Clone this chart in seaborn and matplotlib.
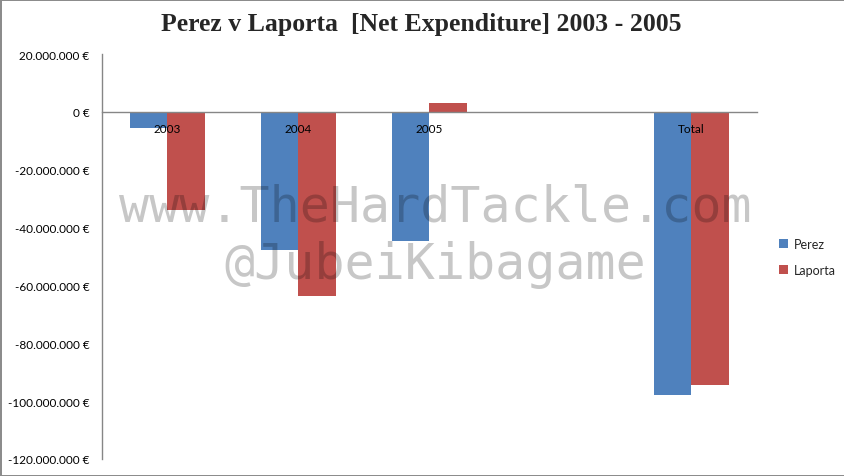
import matplotlib
matplotlib.use("Agg")
import matplotlib.pyplot as plt
import matplotlib.ticker as mticker
import seaborn as sns
import pandas as pd

# ---- data ----
categories = ["2003", "2004", "2005", "Total"]
axis_order = ["2003", "2004", "2005", "", "Total"]
perez = [-5_700_000, -47_600_000, -44_600_000, -97_900_000]
laporta = [-33_800_000, -63_700_000, 3_100_000, -94_400_000]
series_names = ["Perez", "Laporta"]
title = "Perez v Laporta  [Net Expenditure] 2003 - 2005"
watermark_lines = ["www.TheHardTackle.com", "@JubeiKibagame"]

df = pd.DataFrame({
    "cat": categories * 2,
    "value": perez + laporta,
    "series": [series_names[0]] * len(categories) + [series_names[1]] * len(categories),
})

sns.set_theme(style="white")
plt.rcParams["font.family"] = ["Lato", "DejaVu Sans"]

W, H = 845, 477
fig = plt.figure(figsize=(W / 100, H / 100), dpi=100, linewidth=2, edgecolor="#8c8c8c")
ax = fig.add_axes([102 / W, 1 - 460 / H, (757 - 102) / W, (460 - 55) / H])

sns.barplot(data=df, x="cat", y="value", hue="series", order=axis_order,
            hue_order=series_names, palette=["#4F81BD", "#C0504D"],
            width=0.57, linewidth=0, saturation=1, errorbar=None, ax=ax)

ax.set_ylim(-120_000_000, 20_000_000)
ax.set_xlim(-0.5, len(axis_order) - 0.5)
ax.yaxis.set_major_locator(mticker.MultipleLocator(20_000_000))
ax.yaxis.set_major_formatter(mticker.FuncFormatter(
    lambda v, p: f"{v:,.0f} €".replace(",", ".")))
ax.set_xlabel("")
ax.set_ylabel("")

for s in ["top", "right"]:
    ax.spines[s].set_visible(False)
ax.spines["left"].set_color("#868686")
ax.spines["left"].set_linewidth(1)
ax.spines["bottom"].set_position(("data", 0))
ax.spines["bottom"].set_color("#868686")
ax.spines["bottom"].set_linewidth(1)
ax.tick_params(axis="y", length=0, pad=9, labelsize=8.5, colors="black")
ax.tick_params(axis="x", length=0, pad=8, labelsize=8.5, colors="black")
ax.xaxis.set_zorder(10)
ax.yaxis.set_zorder(10)

fig.text(421 / W, 1 - 25 / H, title, ha="center", va="center",
         fontsize=18.5, fontweight="bold", family=["Liberation Serif", "DejaVu Serif"])

leg = ax.legend(loc="center left", bbox_to_anchor=(768 / W, 1 - 258 / H),
                bbox_transform=fig.transFigure, frameon=False, fontsize=9,
                handlelength=0.7, handleheight=0.7, handletextpad=0.5,
                labelspacing=1.1)

# watermark
fig.text(435 / W, 1 - 222 / H, watermark_lines[0], ha="center", va="baseline",
         fontsize=36, family="DejaVu Sans Mono", color="black", alpha=0.22, zorder=10)
fig.text(435 / W, 1 - 279 / H, watermark_lines[1], ha="center", va="baseline",
         fontsize=36, family="DejaVu Sans Mono", color="black", alpha=0.22, zorder=10)

fig.savefig("out.png", dpi=100, edgecolor=fig.get_edgecolor())
